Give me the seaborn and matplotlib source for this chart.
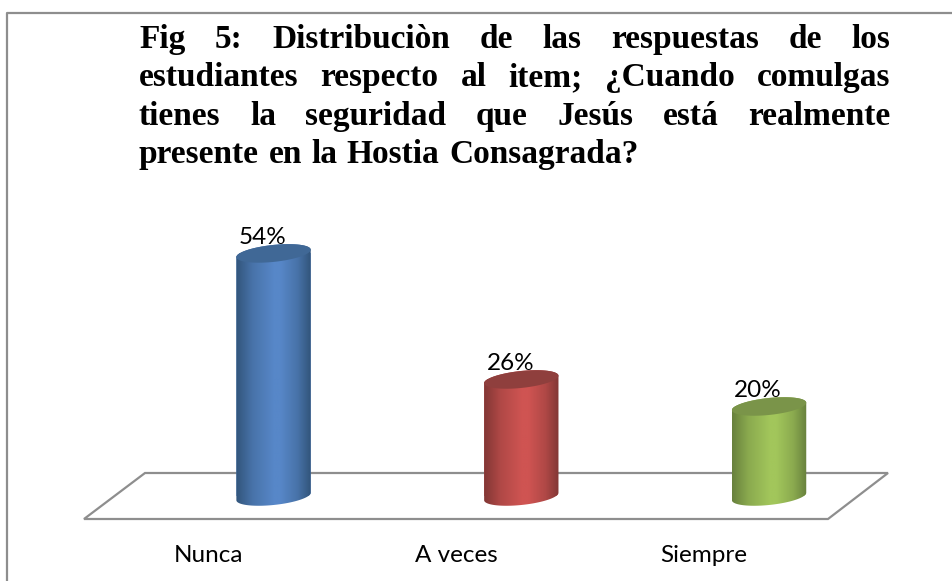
import numpy as np
import pandas as pd
import matplotlib
matplotlib.use("Agg")
import matplotlib.pyplot as plt
from matplotlib.colors import LinearSegmentedColormap
from matplotlib.lines import Line2D
from matplotlib.patches import PathPatch, Polygon
from matplotlib.path import Path
from matplotlib.transforms import ScaledTranslation
import seaborn as sns

categories = ["Nunca", "A veces", "Siempre"]
percent = [54, 26, 20]
labels = ["54%", "26%", "20%"]
title_lines = [
    "Fig 5: Distribuciòn de las respuestas de los",
    "estudiantes respecto al item; ¿Cuando comulgas",
    "tienes la seguridad que Jesús está realmente",
    "presente en la Hostia Consagrada?",
]
side_colors = ["#32557b", "#823735", "#68813d"]
mid_colors = ["#5787c8", "#cf5452", "#a2c65b"]
cap_colors = ["#406896", "#8f3f3d", "#7a9449"]

W, H = 953, 581
GRAY = "#8e8e8e"


def fx(px):
    return px / W


def fy(py):
    return 1 - py / H


sns.set_theme(style="white")
plt.rcParams["font.family"] = ["Lato", "DejaVu Sans"]

fig = plt.figure(figsize=(W / 100, H / 100), dpi=100)
# axes run over the floor of the chart, front edge at the bottom
ax = fig.add_axes([fx(84), fy(519), fx(888 - 84), fy(230) - fy(519)])

df = pd.DataFrame({"respuesta": categories, "valor": percent})
sns.barplot(data=df, x="respuesta", y="valor", hue="respuesta", palette=mid_colors,
            width=0.30, legend=False, saturation=1, ax=ax)
bars = list(ax.patches)

ax.set_xlim(-0.765, 2.48)
ax.set_ylim(-5, 59.2)
ax.set_xlabel("")
ax.set_ylabel("")
ax.set_yticks([])
ax.tick_params(axis="x", length=0, pad=18.5, labelsize=17.5, colors="black")
sns.despine(ax=ax, left=True, bottom=True)
ax.patch.set_alpha(0)

# the category names sit to the left of their cylinders in the 3d layout
shift = ScaledTranslation(-65 / 100, 0, fig.dpi_scale_trans)
for label in ax.get_xticklabels():
    label.set_transform(label.get_transform() + shift)

# floor of the 3d chart
floor = Polygon([(0, 0), (61 / 804, 46 / 289), (1, 46 / 289), (744 / 804, 0)], closed=True,
                fill=False, edgecolor=GRAY, linewidth=1.6, transform=ax.transAxes,
                zorder=1, clip_on=False)
ax.add_patch(floor)

px_x = 804 / (ax.get_xlim()[1] - ax.get_xlim()[0])
px_y = 289 / (ax.get_ylim()[1] - ax.get_ylim()[0])
minor = 8.5
tilt = 0.1


def ellipse(cx, cy, half, start=0.0, stop=2 * np.pi):
    # sheared ellipse so the top and bottom of the cylinders lean up to the right
    t = np.linspace(start, stop, 80)
    dx = half * np.cos(t)
    dy = minor * np.sin(t) + tilt * dx
    return np.column_stack([cx + dx / px_x, cy + dy / px_y])


for i, bar in enumerate(bars):
    cx = bar.get_x() + bar.get_width() / 2
    top = bar.get_height()
    half = bar.get_width() / 2 * px_x
    bar.set_zorder(2)
    bar.set_edgecolor("none")

    lower = ellipse(cx, 0, half, np.pi, 2 * np.pi)
    upper = ellipse(cx, top, half, 0, 2 * np.pi)
    body = np.vstack([lower, upper[:40]])
    body_patch = PathPatch(Path(body, closed=False), transform=ax.transData, facecolor="none", edgecolor="none")
    ax.add_patch(body_patch)
    bar.set_clip_path(body_patch)

    cmap = LinearSegmentedColormap.from_list(f"cyl{i}", [side_colors[i], mid_colors[i], mid_colors[i], side_colors[i]])
    ramp = np.interp(np.linspace(0, 1, 200), [0, 0.22, 0.5, 0.6, 0.82, 1], [0, 0.2, 0.33, 0.67, 0.8, 1])
    grad = ax.imshow(ramp[None, :], cmap=cmap, aspect="auto", zorder=3, vmin=0, vmax=1,
                     extent=[bar.get_x(), bar.get_x() + bar.get_width(), -3, top + 3])
    grad.set_clip_path(body_patch)

    ax.annotate(labels[i], xy=(cx, top), xytext=(-11, 15.5), textcoords="offset pixels",
                ha="center", va="center", fontsize=17.5, color="black", zorder=4, annotation_clip=False)
    ax.add_patch(Polygon(upper, closed=True, facecolor=cap_colors[i], edgecolor="none", zorder=5, clip_on=False))

ax.set_xlim(-0.765, 2.48)
ax.set_ylim(-5, 59.2)

# title is justified between the two margins, last line is left as it is
renderer = fig.canvas.get_renderer()
title_left, title_right = 139, 890
baselines = [48, 86, 125, 163]
for n, line in enumerate(title_lines):
    words = line.split(" ")
    items = [fig.text(fx(title_left), fy(baselines[n]), w, family="Liberation Serif", weight="bold",
                      fontsize=24, color="black", va="baseline") for w in words]
    widths = [t.get_window_extent(renderer).width for t in items]
    if n < len(title_lines) - 1:
        gap = (title_right - title_left - sum(widths)) / (len(words) - 1)
    else:
        gap = 9.5
    pos = title_left
    for t, w in zip(items, widths):
        t.set_x(fx(pos))
        pos += w + gap

# frame of the original picture
fig.add_artist(Line2D([fx(7.5), fx(7.5), fx(953)], [fy(581), fy(13), fy(13)], color=GRAY, linewidth=1.6))

fig.savefig("out.png", dpi=100)
